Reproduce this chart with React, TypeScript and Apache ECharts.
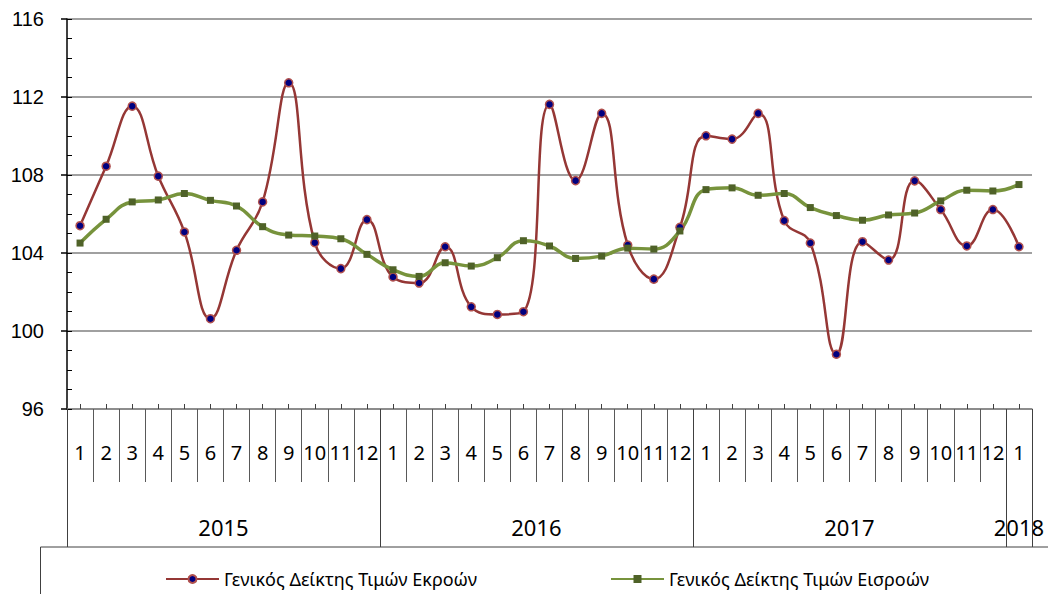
import React, { useEffect, useRef } from 'react';
import * as echarts from 'echarts';

const monthLabels = ['1','2','3','4','5','6','7','8','9','10','11','12','1','2','3','4','5','6','7','8','9','10','11','12','1','2','3','4','5','6','7','8','9','10','11','12','1'];
const years = ['2015', '2016', '2017', '2018'];
const monthsPerYear = [12, 12, 12, 1];

const outputName = 'Γενικός Δείκτης Τιμών Εκροών';
const inputName = 'Γενικός Δείκτης Τιμών Εισροών';

const outputIndex = [
  105.4, 108.45, 111.53, 107.94, 105.08, 100.63, 104.14, 106.62, 112.73, 104.53, 103.2, 105.71,
  102.77, 102.46, 104.32, 101.24, 100.85, 100.99, 111.62, 107.71, 111.16, 104.41, 102.66, 105.32,
  110.01, 109.84, 111.16, 105.66, 104.51, 98.81, 104.58, 103.64, 107.7, 106.23, 104.36, 106.23,
  104.32,
];
const inputIndex = [
  104.51, 105.73, 106.62, 106.72, 107.05, 106.7, 106.41, 105.35, 104.92, 104.87, 104.73, 103.93,
  103.14, 102.8, 103.5, 103.33, 103.76, 104.63, 104.36, 103.72, 103.84, 104.25, 104.2, 105.13,
  107.25, 107.34, 106.96, 107.05, 106.33, 105.92, 105.68, 105.95, 106.05, 106.67, 107.22, 107.18,
  107.51,
];

const yMin = 96;
const yMax = 116;
const yInterval = 4;

export default function App() {
  const ref = useRef<HTMLDivElement>(null);

  useEffect(() => {
    const chart = echarts.init(ref.current!, null, { renderer: 'svg' });

    // Half-month slots for the year row: boundaries and centres
    const totalHalf = monthsPerYear.reduce((a, b) => a + b, 0) * 2;
    const yearSlots: string[] = [];
    for (let i = 0; i <= totalHalf; i++) yearSlots.push(String(i));
    const yearBoundaries = new Set<number>();
    const yearCentres = new Map<number, string>();
    let cum = 0;
    monthsPerYear.forEach((m, i) => {
      yearBoundaries.add(cum * 2);
      yearCentres.set(cum * 2 + m, years[i]);
      cum += m;
    });
    yearBoundaries.add(cum * 2);

    const labelFont = 'Noto Sans';

    chart.setOption({
      animation: false,
      backgroundColor: '#ffffff',
      grid: { left: 67, right: 16, top: 19, height: 390, containLabel: false },
      legend: [
        {
          data: [outputName],
          left: 160,
          top: 565,
          itemWidth: 53,
          itemHeight: 10,
          textStyle: { fontSize: 18, fontFamily: labelFont, color: '#000' },
        },
        {
          data: [inputName],
          left: 605,
          top: 565,
          itemWidth: 53,
          itemHeight: 10,
          textStyle: { fontSize: 18, fontFamily: labelFont, color: '#000' },
        },
      ],
      xAxis: [
        {
          type: 'category',
          data: monthLabels,
          boundaryGap: true,
          position: 'bottom',
          axisLine: { show: true, onZero: false, lineStyle: { color: '#868686', width: 1.5 } },
          axisTick: { show: true, inside: true, alignWithLabel: true, interval: 0, length: 5, lineStyle: { color: '#404040' } },
          axisLabel: { interval: 0, margin: 33, fontSize: 20, fontFamily: labelFont, color: '#000' },
          splitLine: { show: false },
        },
        {
          type: 'category',
          data: monthLabels,
          boundaryGap: true,
          position: 'bottom',
          axisLine: { show: false, onZero: false },
          axisTick: { show: true, inside: false, interval: 0, length: 73, lineStyle: { color: '#595959', width: 1 } },
          axisLabel: { show: false },
          splitLine: { show: false },
        },
        {
          type: 'category',
          data: yearSlots,
          boundaryGap: false,
          position: 'bottom',
          axisLine: { show: false, onZero: false },
          axisTick: {
            show: true,
            inside: false,
            length: 138,
            interval: (idx: number) => yearBoundaries.has(idx),
            lineStyle: { color: '#404040', width: 1 },
          },
          axisLabel: {
            show: true,
            interval: (idx: number) => yearCentres.has(idx),
            formatter: (v: string) => yearCentres.get(Number(v)) || '',
            margin: 107,
            fontSize: 22,
            fontFamily: labelFont,
            color: '#000',
          },
          splitLine: { show: false },
        },
      ],
      yAxis: [
        {
          type: 'value',
          min: yMin,
          max: yMax,
          interval: yInterval,
          position: 'left',
          axisLine: { show: true, lineStyle: { color: '#000', width: 1.5 } },
          axisTick: { show: true, inside: false, length: 6, lineStyle: { color: '#000', width: 1.5 } },
          axisLabel: { margin: 23, fontSize: 20, fontFamily: 'Liberation Sans, Arial', color: '#000' },
          splitLine: { show: true, lineStyle: { color: '#808080', width: 1.5 } },
        },
        {
          type: 'value',
          min: yMin,
          max: yMax,
          interval: 1,
          position: 'left',
          axisLine: { show: false },
          axisTick: { show: true, inside: true, length: 5, lineStyle: { color: '#000', width: 1 } },
          axisLabel: { show: false },
          splitLine: { show: false },
        },
      ],
      series: [
        {
          name: outputName,
          type: 'line',
          data: outputIndex,
          xAxisIndex: 0,
          yAxisIndex: 0,
          smooth: 0.45,
          symbol: 'circle',
          symbolSize: 8,
          lineStyle: { color: '#953735', width: 2.5 },
          itemStyle: { color: '#000080', borderColor: '#B0504E', borderWidth: 1.5 },
        },
        {
          name: inputName,
          type: 'line',
          data: inputIndex,
          xAxisIndex: 0,
          yAxisIndex: 0,
          smooth: 0.45,
          symbol: 'rect',
          symbolSize: 7,
          lineStyle: { color: '#77933C', width: 3.5 },
          itemStyle: { color: '#4F6228', borderColor: '#4F6228', borderWidth: 0 },
        },
      ],
      graphic: [
        {
          type: 'rect',
          shape: { x: 40.5, y: 547, width: 1100, height: 100 },
          style: { fill: 'none', stroke: '#404040', lineWidth: 1 },
          silent: true,
        },
      ],
    });

    return () => chart.dispose();
  }, []);

  return (
    <div
      ref={ref}
      style={{ position: 'fixed', left: 0, top: 0, width: 1048, height: 594, background: '#fff' }}
    />
  );
}
